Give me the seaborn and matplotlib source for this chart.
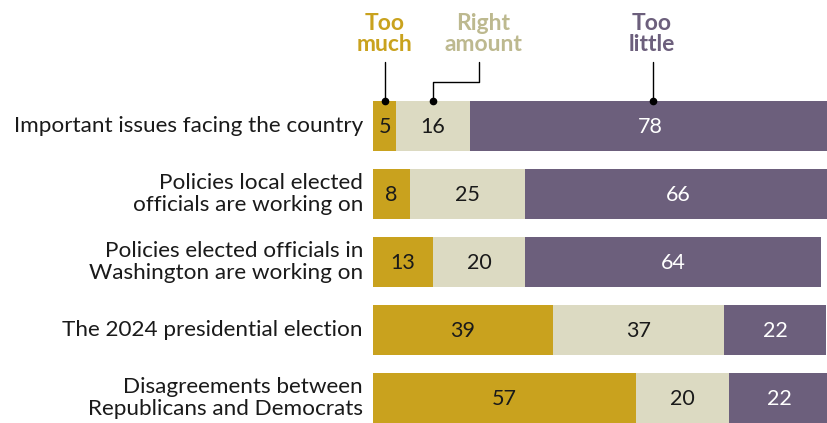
import matplotlib
matplotlib.use("Agg")
import matplotlib.pyplot as plt
import seaborn as sns
import pandas as pd
import numpy as np

categories = [
    "Important issues facing the country",
    "Policies local elected\nofficials are working on",
    "Policies elected officials in\nWashington are working on",
    "The 2024 presidential election",
    "Disagreements between\nRepublicans and Democrats",
]
too_much = [5, 8, 13, 39, 57]
right_amount = [16, 25, 20, 37, 20]
too_little = [78, 66, 64, 22, 22]
series_names = ["Too much", "Right amount", "Too little"]
header_labels = ["Too\nmuch", "Right\namount", "Too\nlittle"]

colors = ["#C9A21E", "#DCDAC2", "#6C5F7C"]
header_colors = ["#C9A21E", "#BDB98F", "#6C5F7C"]
text_colors = ["#1a1a1a", "#1a1a1a", "#ffffff"]

sns.set_style("white")
plt.rcParams["font.family"] = ["Lato", "DejaVu Sans"]

W, H = 827, 423
fig = plt.figure(figsize=(W / 100, H / 100), dpi=100)
x0 = 373
ppu = 4.62
ax = fig.add_axes([x0 / W, 0, (W - x0) / W, 1])

row_px = 68.0
top_center = 126.0

vals = np.array([too_much, right_amount, too_little], dtype=float)
cum = np.cumsum(vals, axis=0)
starts = cum - vals

df = pd.DataFrame({"cat": categories})
for i in range(2, -1, -1):
    df["end"] = cum[i]
    sns.barplot(data=df, y="cat", x="end", orient="h", color=colors[i],
                width=50 / row_px, ax=ax, saturation=1, order=categories,
                linewidth=0)

ax.set_ylim((H - top_center) / row_px, -top_center / row_px)
ax.set_xlim(0, (W - x0) / ppu)

for i in range(3):
    for r in range(len(categories)):
        v = vals[i, r]
        cx = starts[i, r] + v / 2
        ax.text(cx, r + 0.02, f"{int(v)}", ha="center", va="center",
                fontsize=15.5, color=text_colors[i])

ax.set_yticks([])
ax.set_xticks([])
ax.set_ylabel("")
ax.set_xlabel("")
for s in ax.spines.values():
    s.set_visible(False)

for r, c in enumerate(categories):
    ax.text(-10 / ppu, r, c, ha="right", va="center", fontsize=16.2,
            color="#1a1a1a", linespacing=1.18)

def px(xp, yp):
    return (xp - x0) / ppu, (yp - top_center) / row_px

# header labels
hdr_x = [385, 483, 652]
for j in range(3):
    hx, hy = px(hdr_x[j], 34)
    ax.text(hx, hy, header_labels[j],
            ha="center", va="center", fontsize=16.5, fontweight="bold",
            color=header_colors[j], linespacing=1.05)

lines = [
    [(385, 62), (385, 101)],
    [(479, 62), (479, 82), (433, 82), (433, 101)],
    [(653, 62), (653, 101)],
]
for pts in lines:
    xs, ys = zip(*[px(a, b) for a, b in pts])
    ax.plot(xs, ys, color="black", lw=1, clip_on=False)
    ax.plot(xs[-1], ys[-1], "o", color="black", ms=4.5, clip_on=False)

fig.savefig("out.png", dpi=100)
